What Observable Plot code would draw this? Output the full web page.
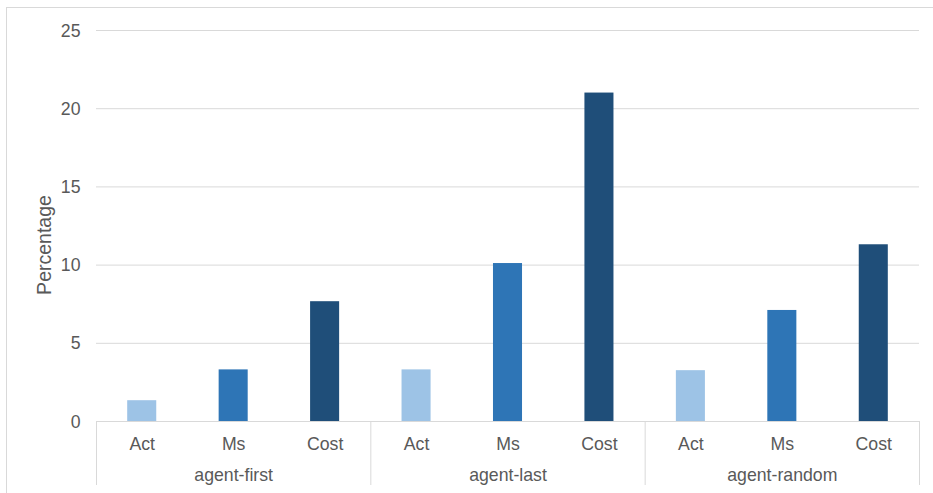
<!DOCTYPE html>
<html>
<head>
<meta charset="utf-8">
<script src="https://cdn.jsdelivr.net/npm/d3@7"></script>
<script src="https://cdn.jsdelivr.net/npm/@observablehq/plot@0.6"></script>
<style>
  html, body { margin: 0; padding: 0; background: #fff; overflow: hidden; }
  #wrap { position: relative; width: 933px; height: 493px; }
  #border { position: absolute; left: 6px; top: 7px; width: 960px; height: 520px;
            border: 1px solid #d9d9d9; box-sizing: border-box; }
  #chart { position: absolute; left: 0; top: 0; }
  #chart svg { font-family: "Liberation Sans", Arial, sans-serif; }
</style>
</head>
<body>
<div id="wrap">
  <div id="border"></div>
  <div id="chart"></div>
</div>
<script>
// Groups (outer category level) and metrics (inner category level)
const groups = ["agent-first", "agent-last", "agent-random"];
const metrics = ["Act", "Ms", "Cost"];

// Percentage per group, one array per metric
const actValues = [1.33, 3.3, 3.25];
const msValues = [3.3, 10.1, 7.1];
const costValues = [7.66, 21.0, 11.3];

const yTicks = [0, 5, 10, 15, 20, 25];
const metricColors = ["#9dc3e6", "#2e75b6", "#1f4e79"];

const seriesByMetric = [actValues, msValues, costValues];
const rows = [];
groups.forEach((g, gi) => {
  metrics.forEach((m, mi) => {
    rows.push({group: g, metric: m, value: seriesByMetric[mi][gi], i: gi * metrics.length + mi});
  });
});
const groupRows = groups.map((g, gi) => ({group: g, start: gi * metrics.length, mid: gi * metrics.length + metrics.length / 2}));
const bounds = d3.range(0, groups.length + 1).map(k => k * metrics.length);

const textColor = "#595959";
const gridColor = "#d9d9d9";

const chart = Plot.plot({
  width: 933,
  height: 493,
  marginLeft: 96,
  marginRight: 14,
  marginTop: 30,
  marginBottom: 72,
  x: {type: "linear", domain: [0, rows.length], axis: null},
  y: {domain: [0, 25], axis: null},
  color: {domain: metrics, range: metricColors},
  marks: [
    // horizontal gridlines
    Plot.ruleY(yTicks, {stroke: gridColor, strokeWidth: 1}),
    // y tick labels
    Plot.text(yTicks, {y: d => d, frameAnchor: "left", dx: -16, textAnchor: "end",
      text: d => String(d), fill: textColor, fontSize: 17.7, dy: 0.5}),
    // bars
    Plot.rectY(rows, {x1: "i", x2: d => d.i + 1, y1: 0, y2: "value", fill: "metric",
      insetLeft: 31.2, insetRight: 31.2}),
    // group separators on the category axis
    Plot.ruleX(bounds, {x: d => d, y1: 0, y2: 0, insetBottom: -64, stroke: gridColor, strokeWidth: 1}),
    // inner category labels
    Plot.text(rows, {x: d => d.i + 0.5, y: 0, text: "metric", dy: 22.8,
      fill: textColor, fontSize: 17.7}),
    // outer category labels
    Plot.text(groupRows, {x: "mid", y: 0, text: "group", dy: 54,
      fill: textColor, fontSize: 17.7}),
    // y axis title
    Plot.text(["Percentage"], {frameAnchor: "left", textAnchor: "middle", dx: -52, dy: 19,
      rotate: -90, fill: textColor, fontSize: 19.5})
  ]
});
document.getElementById("chart").appendChild(chart);
</script>
</body>
</html>
